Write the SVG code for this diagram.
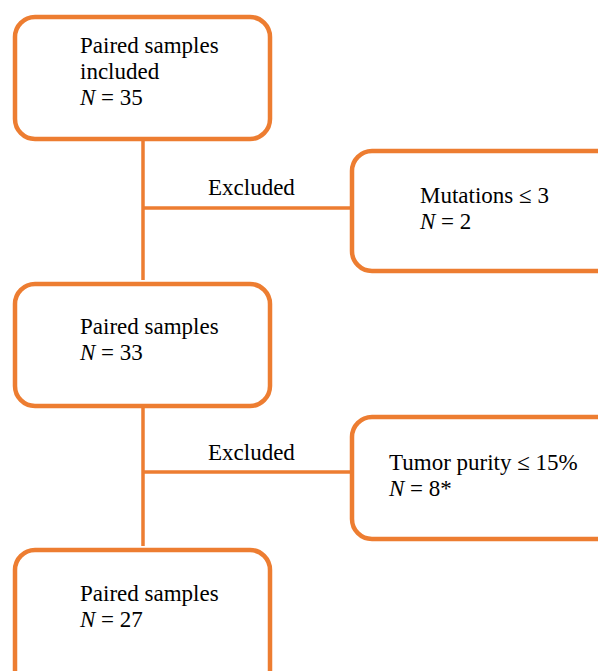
<svg xmlns="http://www.w3.org/2000/svg" width="598" height="671" viewBox="0 0 598 671">
<style>
.box{fill:#fff;stroke:#ED7D31;stroke-width:4.5}
.ln{stroke:#ED7D31;stroke-width:3.5;fill:none}
text{font-family:"Liberation Serif","Times New Roman",serif;font-size:23px;fill:#000}
.i{font-style:italic}
</style>
<rect width="598" height="671" fill="#fff"/>
<g id="connectors">
<line class="ln" x1="143" y1="140" x2="143" y2="280"/>
<line class="ln" x1="143" y1="208" x2="351" y2="208"/>
<line class="ln" x1="143" y1="407" x2="143" y2="546"/>
<line class="ln" x1="143" y1="472" x2="352" y2="472"/>
<text x="208" y="195">Excluded</text>
<text x="208" y="460">Excluded</text>
</g>
<g id="n1">
<rect class="box" x="15" y="17" width="255" height="122" rx="20"/>
<text x="80" y="53">Paired samples</text>
<text x="80" y="79">included</text>
<text x="80" y="105"><tspan class="i">N</tspan> = 35</text>
</g>
<g id="n2">
<rect class="box" x="352" y="151" width="270" height="120" rx="20"/>
<text x="420" y="203">Mutations ≤ 3</text>
<text x="420" y="229"><tspan class="i">N</tspan> = 2</text>
</g>
<g id="n3">
<rect class="box" x="15" y="284" width="255" height="122" rx="20"/>
<text x="80" y="334">Paired samples</text>
<text x="80" y="360"><tspan class="i">N</tspan> = 33</text>
</g>
<g id="n4">
<rect class="box" x="352" y="417" width="270" height="122" rx="20"/>
<text x="389" y="470">Tumor purity ≤ 15%</text>
<text x="389" y="496"><tspan class="i">N</tspan> = 8*</text>
</g>
<g id="n5">
<rect class="box" x="15" y="550" width="255" height="140" rx="20"/>
<text x="80" y="601">Paired samples</text>
<text x="80" y="627"><tspan class="i">N</tspan> = 27</text>
</g>
</svg>
